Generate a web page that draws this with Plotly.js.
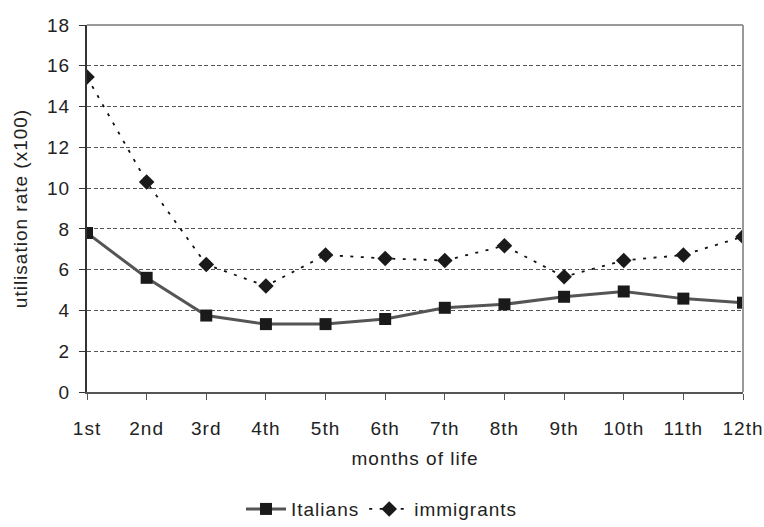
<!DOCTYPE html>
<html>
<head>
<meta charset="utf-8">
<script src="https://cdn.plot.ly/plotly-3.0.1.min.js"></script>
<style>
html,body{margin:0;padding:0;background:#fff;}
#chart{width:764px;height:527px;}
svg text{letter-spacing:1px;}
</style>
</head>
<body>
<div id="chart"></div>
<script>
const months = ["1st","2nd","3rd","4th","5th","6th","7th","8th","9th","10th","11th","12th"];
const italians = [7.8, 5.6, 3.75, 3.33, 3.33, 3.58, 4.13, 4.3, 4.67, 4.93, 4.58, 4.38];
const immigrants = [15.45, 10.3, 6.25, 5.2, 6.72, 6.55, 6.45, 7.17, 5.65, 6.45, 6.72, 7.62];
const yTicks = [0,2,4,6,8,10,12,14,16,18];

const font = "Liberation Sans, Arial, sans-serif";
const fsize = 19;
const fcol = "#222222";

const traces = [
  {
    x: months, y: italians, name: "Italians", type: "scatter", mode: "lines+markers",
    line: {color: "#555555", width: 3},
    marker: {symbol: "square", size: 12, color: "#1a1a1a"}
  },
  {
    x: months, y: immigrants, name: "immigrants", type: "scatter", mode: "lines+markers",
    line: {color: "#111111", width: 1.8, dash: "3px,7.5px"},
    marker: {symbol: "diamond", size: 12, color: "#1a1a1a"}
  }
];

const layout = {
  width: 764, height: 527,
  margin: {l: 87, r: 21, t: 25, b: 135, autoexpand: false},
  paper_bgcolor: "#ffffff", plot_bgcolor: "#ffffff",
  font: {family: font, size: fsize, color: fcol},
  showlegend: true,
  legend: {orientation: "h", xref: "container", yref: "container",
           x: 0.5, xanchor: "center", y: 0.034, yanchor: "middle",
           font: {family: font, size: fsize, color: fcol}, itemwidth: 40, tracegroupgap: 0},
  xaxis: {
    type: "category", range: [0, 11],
    showline: true, linecolor: "#555555", linewidth: 2,
    ticks: "outside", ticklen: 6, tickcolor: "#555555", tickwidth: 1,
    ticklabelstandoff: 12,
    showgrid: false, zeroline: false, automargin: false,
    tickfont: {family: font, size: fsize, color: fcol},
    title: {text: "months of life", font: {family: font, size: fsize, color: fcol}, standoff: 14}
  },
  yaxis: {
    range: [0, 18], tickvals: yTicks, ticktext: yTicks.map(String),
    showline: true, linecolor: "#333333", linewidth: 2,
    ticks: "outside", ticklen: 6, tickcolor: "#333333", tickwidth: 1,
    ticklabelstandoff: 5,
    showgrid: true, gridcolor: "#555555", gridwidth: 1, griddash: "4px,2.5px",
    zeroline: false, automargin: false,
    tickfont: {family: font, size: fsize, color: fcol},
    title: {text: "utilisation rate (x100)", font: {family: font, size: fsize, color: fcol}, standoff: 14}
  },
  shapes: [
    {type: "line", xref: "paper", yref: "paper", x0: 0, x1: 1, y0: 1, y1: 1, line: {color: "#999999", width: 2}},
    {type: "line", xref: "paper", yref: "paper", x0: 1, x1: 1, y0: 0, y1: 1, line: {color: "#999999", width: 2}}
  ]
};

Plotly.newPlot("chart", traces, layout, {displayModeBar: false, staticPlot: true});
</script>
</body>
</html>
